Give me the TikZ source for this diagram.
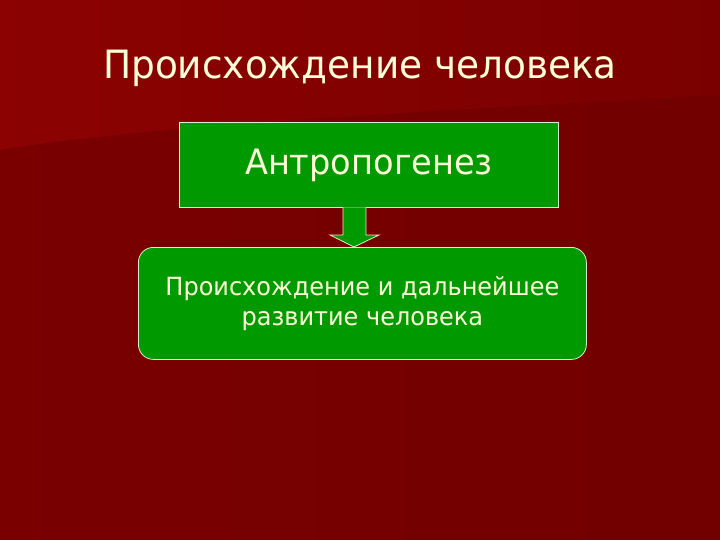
\documentclass[tikz,border=0pt]{standalone}
\usepackage{fontspec}
\setmainfont[FakeStretch=0.96]{DejaVu Sans}
\definecolor{bgA}{HTML}{7A0000}
\definecolor{bgB}{HTML}{720000}
\definecolor{bgC}{HTML}{8C0202}
\definecolor{boxgreen}{HTML}{009A00}
\definecolor{edgec}{HTML}{D8F0D0}
\definecolor{cream}{HTML}{FFFFD8}
\tikzset{
  greenbox/.style={draw=edgec, line width=0.8pt, fill=boxgreen, text=cream, align=center},
  blockarrow/.style={draw=edgec, line width=0.8pt, fill=boxgreen},
}
\begin{document}
\begin{tikzpicture}[x=1pt,y=-1pt]
\useasboundingbox (0,0) rectangle (720,540);
\shade[left color=bgA, right color=bgB] (0,0) rectangle (720,540);
\shade[left color=bgC, right color=bgA] (0,0) -- (720,0) -- (720,95) .. controls (450,110) and (150,125) .. (0,150) -- cycle;
\node[text=cream, font=\fontsize{39}{44}\selectfont] (title) at (360,68) {Происхождение человека};
\node[greenbox, minimum width=379pt, minimum height=85pt, anchor=north west, font=\fontsize{35}{42}\selectfont] (top) at (179,122) {Антропогенез};
\node[greenbox, rounded corners=15pt, minimum width=448pt, minimum height=112pt, anchor=north west, font=\fontsize{25}{30}\selectfont] (bottom) at (138,247) {Происхождение и дальнейшее\\развитие человека};
\coordinate (tip) at (354,247);
\draw[blockarrow] (343,207.4) -- (343,235) -- (330,235) -- (tip) -- (379,235) -- (366,235) -- (366,207.4);
\end{tikzpicture}
\end{document}
